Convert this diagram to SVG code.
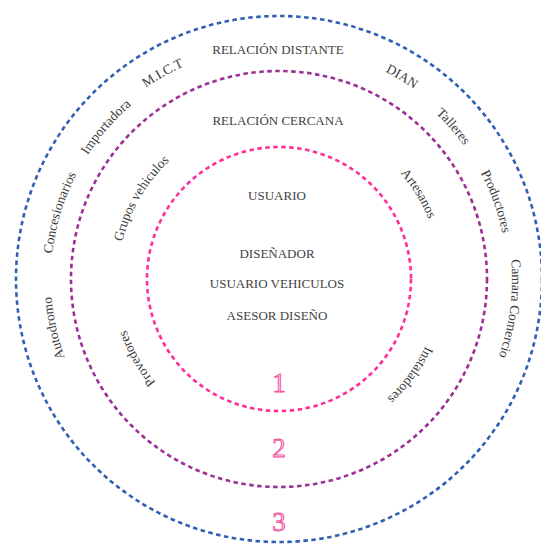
<svg xmlns="http://www.w3.org/2000/svg" xmlns:xlink="http://www.w3.org/1999/xlink" width="541" height="545" viewBox="0 0 541 545">
  <style>
    .ring { fill: none; stroke-width: 2.6; stroke-dasharray: 4.5 3.5; }
    .blue { stroke: #2f5fb3; }
    .purple { stroke: #9c2f97; }
    .pink { stroke: #ff2d95; }
    .lbl { font-family: "Liberation Serif", "Times New Roman", serif; font-size: 13.5px; fill: #3c3c3c; }
    .cap { font-family: "Liberation Serif", "Times New Roman", serif; font-size: 13px; fill: #424242; text-anchor: middle; }
    .num { font-family: "Liberation Serif", "Times New Roman", serif; font-size: 27px; fill: #fbc0da; stroke: #f0489c; stroke-width: 0.8; text-anchor: middle; }
  </style>
  <defs>
    <path id="pOuterA" d="M279,507 A228,228 0 1 1 279,51 A228,228 0 1 1 279,507"/>
    <path id="pOuterB" d="M279,512 A233,233 0 1 1 279,46 A233,233 0 1 1 279,512"/>
    <path id="pInner" d="M279,440 A161,161 0 1 1 279,118 A161,161 0 1 1 279,440"/>
  </defs>
  <rect width="541" height="545" fill="#ffffff"/>

  <g id="rings">
    <circle id="ring3" class="ring blue" cx="279" cy="279" r="263"/>
    <circle id="ring2" class="ring purple" cx="279" cy="279" r="208"/>
    <circle id="ring1" class="ring pink" cx="279" cy="279" r="132"/>
  </g>

  <g id="center">
    <text class="cap" x="277" y="200">USUARIO</text>
    <text class="cap" x="277" y="258">DISEÑADOR</text>
    <text class="cap" x="277" y="288">USUARIO VEHICULOS</text>
    <text class="cap" x="277" y="320">ASESOR DISEÑO</text>
  </g>

  <g id="headers">
    <text class="cap" x="278" y="54">RELACIÓN DISTANTE</text>
    <text class="cap" x="278" y="125">RELACIÓN CERCANA</text>
  </g>

  <g id="numbers">
    <text class="num" x="279" y="392">1</text>
    <text class="num" x="279" y="457">2</text>
    <text class="num" x="279" y="531">3</text>
  </g>

  <g id="outer-labels" class="lbl" text-anchor="middle">
    <g id="n-autodromo"><text><textPath xlink:href="#pOuterA" href="#pOuterA" startOffset="21.58%">Autodromo</textPath></text></g>
    <g id="n-concesionarios"><text><textPath xlink:href="#pOuterA" href="#pOuterA" startOffset="29.69%">Concesionarios</textPath></text></g>
    <g id="n-importadora"><text><textPath xlink:href="#pOuterA" href="#pOuterA" startOffset="36.47%">Importadora</textPath></text></g>
    <g id="n-mict"><text><textPath xlink:href="#pOuterB" href="#pOuterB" startOffset="41.81%">M.I.C.T</textPath></text></g>
    <g id="n-dian"><text><textPath xlink:href="#pOuterB" href="#pOuterB" startOffset="58.69%">DIAN</textPath></text></g>
    <g id="n-talleres"><text><textPath xlink:href="#pOuterA" href="#pOuterA" startOffset="63.56%">Talleres</textPath></text></g>
    <g id="n-productores"><text><textPath xlink:href="#pOuterA" href="#pOuterA" startOffset="69.53%">Productores</textPath></text></g>
    <g id="n-camara"><text><textPath xlink:href="#pOuterB" href="#pOuterB" startOffset="77.03%">Camara Comercio</textPath></text></g>
  </g>

  <g id="inner-labels" class="lbl" text-anchor="middle">
    <g id="n-provedores"><text><textPath xlink:href="#pInner" href="#pInner" startOffset="16.89%">Provedores</textPath></text></g>
    <g id="n-grupos"><text><textPath xlink:href="#pInner" href="#pInner" startOffset="33.42%">Grupos vehiculos</textPath></text></g>
    <g id="n-artesanos"><text><textPath xlink:href="#pInner" href="#pInner" startOffset="66.25%">Artesanos</textPath></text></g>
    <g id="n-instaladores"><text><textPath xlink:href="#pInner" href="#pInner" startOffset="85.06%">Instaladores</textPath></text></g>
  </g>
</svg>
